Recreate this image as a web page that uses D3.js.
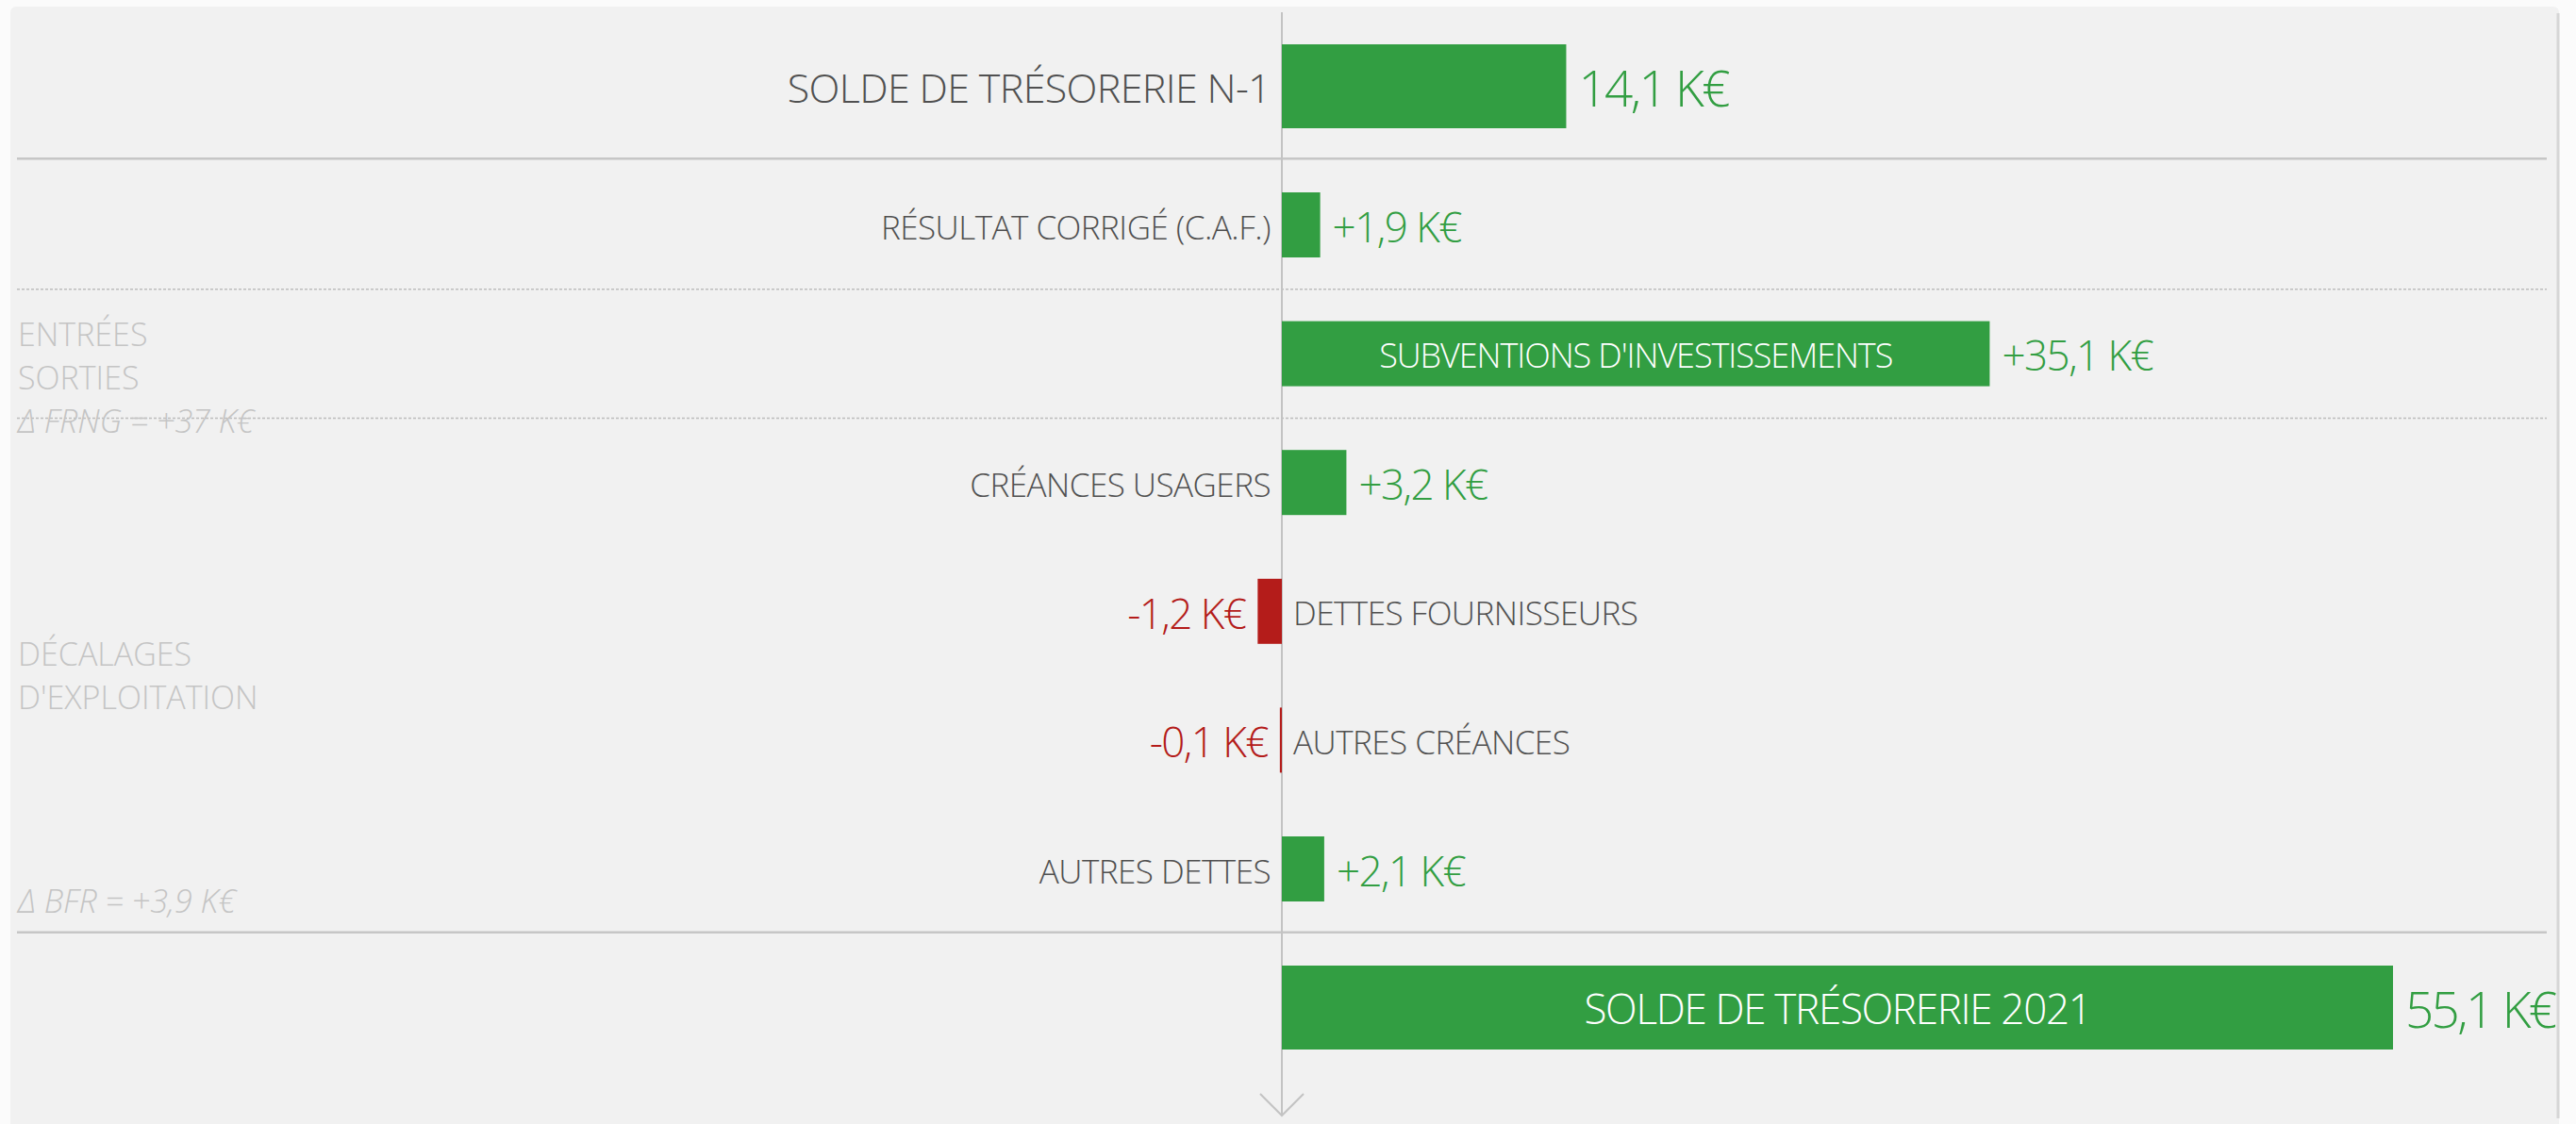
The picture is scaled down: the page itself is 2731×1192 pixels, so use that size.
<!DOCTYPE html>
<html>
<head>
<meta charset="utf-8">
<script src="https://cdn.jsdelivr.net/npm/d3@7"></script>
<style>
  html, body { margin: 0; padding: 0; background: #ffffff; }
  svg { display: block; }
  text { font-family: 'Open Sans', 'Segoe UI', sans-serif; font-weight: 300; }
</style>
</head>
<body>
<svg id="chart" width="2731" height="1192"></svg>
<script>
// ---------- DATA ----------
const categories = [
  "SOLDE DE TRÉSORERIE N-1",
  "RÉSULTAT CORRIGÉ (C.A.F.)",
  "SUBVENTIONS D'INVESTISSEMENTS",
  "CRÉANCES USAGERS",
  "DETTES FOURNISSEURS",
  "AUTRES CRÉANCES",
  "AUTRES DETTES",
  "SOLDE DE TRÉSORERIE 2021"
];
const values = [14.1, 1.9, 35.1, 3.2, -1.2, -0.1, 2.1, 55.1];
const rowKinds = ["solde", "flux", "flux", "flux", "flux", "flux", "flux", "solde"];
const groupTitles = [["ENTRÉES", "SORTIES"], ["DÉCALAGES", "D'EXPLOITATION"]];
const groupNotes = ["Δ FRNG = +37 K€", "Δ BFR = +3,9 K€"];
const unit = "K€";

// ---------- LAYOUT ----------
const W = 2731, H = 1192;
const svg = d3.select("#chart");
const green = "#329e42", red = "#b41c1a", dark = "#505050", faint = "#c4c4c4";

const fr = d3.formatLocale({ decimal: ",", thousands: "\u00a0", grouping: [3], currency: ["", ""], minus: "-" });
const fmt = fr.format(".1f");
const label = (v, kind) => (kind === "flux" && v > 0 ? "+" : "") + fmt(v) + " " + unit;

const x = d3.scaleLinear().domain([0, d3.max(values)]).range([1359, 2537]);
const mid = categories.slice(1, -1);
const yMid = d3.scalePoint().domain(mid).range([238.5, 921.5]);
const step = yMid.step();
const totalGap = 147;
const y = c => {
  if (c === categories[0]) return yMid(mid[0]) - totalGap;
  if (c === categories[categories.length - 1]) return yMid(mid[mid.length - 1]) + totalGap;
  return yMid(c);
};
const barH = k => k === "solde" ? 89 : 69;
const valSize = k => k === "solde" ? 53 : 44;
const base = (cy, fs) => cy + 0.36 * fs + 2.5;

// panel
svg.append("rect").attr("x", 0).attr("y", 0).attr("width", W).attr("height", H).attr("fill", "#fbfbfb");
svg.append("rect").attr("x", 11).attr("y", 7).attr("width", 2702).attr("height", 1200)
  .attr("rx", 6).attr("fill", "#f1f1f1");
svg.append("line").attr("x1", 2712).attr("x2", 2712).attr("y1", 14).attr("y2", 1186)
  .attr("stroke", "#d6d6d6").attr("stroke-width", 3);

// separators
const lx0 = 18, lx1 = 2700;
const solidYs = [yMid(mid[0]) - step / 2 - 2, yMid(mid[mid.length - 1]) + step / 2 - 1];
const dottedYs = [yMid(mid[0]) + step / 2, yMid(mid[1]) + step / 2];
svg.selectAll("line.solid").data(solidYs).join("line").attr("class", "solid")
  .attr("x1", lx0).attr("x2", lx1).attr("y1", d => d).attr("y2", d => d)
  .attr("stroke", "#c6c6c6").attr("stroke-width", 2.5);
svg.selectAll("line.dotted").data(dottedYs).join("line").attr("class", "dotted")
  .attr("x1", lx0).attr("x2", lx1).attr("y1", d => d).attr("y2", d => d)
  .attr("stroke", "#bdbdbd").attr("stroke-width", 1.5).attr("stroke-dasharray", "3,2");

// group annotations
const fsA = 34, lineH = 46;
const g0y = y(categories[2]) - 8;
groupTitles[0].forEach((t, i) => {
  svg.append("text").attr("x", 19).attr("y", g0y + i * lineH).attr("font-size", fsA)
    .attr("fill", faint).text(t);
});
svg.append("text").attr("x", 19).attr("y", g0y + 2 * lineH).attr("font-size", fsA)
  .attr("fill", faint).attr("font-style", "italic").text(groupNotes[0]);
const g1c = (y(categories[4]) + y(categories[5])) / 2;
groupTitles[1].forEach((t, i) => {
  svg.append("text").attr("x", 19).attr("y", g1c - 11 + i * lineH).attr("font-size", fsA)
    .attr("fill", faint).text(t);
});
svg.append("text").attr("x", 19).attr("y", y(categories[6]) + 46).attr("font-size", fsA)
  .attr("fill", faint).attr("font-style", "italic").text(groupNotes[1]);

// axis line with arrow
const ax = x(0);
svg.append("line").attr("x1", ax).attr("x2", ax).attr("y1", 13).attr("y2", 1182)
  .attr("stroke", "#c3c3c3").attr("stroke-width", 2);
svg.append("path").attr("d", d3.line()([[ax - 23, 1160], [ax, 1183], [ax + 23, 1160]]))
  .attr("fill", "none").attr("stroke", "#c3c3c3").attr("stroke-width", 2);

// bars
const rows = categories.map((c, i) => ({ c, v: values[i], k: rowKinds[i] }));
svg.selectAll("rect.bar").data(rows).join("rect").attr("class", "bar")
  .attr("x", d => Math.min(x(0), x(d.v)))
  .attr("width", d => Math.max(1.5, Math.abs(x(d.v) - x(0))))
  .attr("y", d => y(d.c) - barH(d.k) / 2)
  .attr("height", d => barH(d.k))
  .attr("fill", d => d.v >= 0 ? green : red);

// value labels
svg.selectAll("text.val").data(rows).join("text").attr("class", "val")
  .attr("x", d => d.v >= 0 ? x(d.v) + 13 : x(d.v) - 13)
  .attr("y", d => base(y(d.c), valSize(d.k)))
  .attr("text-anchor", d => d.v >= 0 ? "start" : "end")
  .attr("font-size", d => valSize(d.k))
  .attr("letter-spacing", d => d.k === "solde" ? "-0.05em" : "-0.035em")
  .attr("fill", d => d.v >= 0 ? green : red)
  .text(d => label(d.v, d.k));

// category labels: inside the bar when it fits, else beside the axis
const cats = svg.selectAll("text.cat").data(rows).join("text").attr("class", "cat")
  .attr("font-size", d => d.k === "solde" ? 43 : 35)
  .attr("letter-spacing", "-0.015em")
  .attr("y", d => base(y(d.c), d.k === "solde" ? 43 : 35))
  .text(d => d.c);
cats.each(function (d) {
  const t = d3.select(this);
  const w = this.getComputedTextLength();
  const bw = Math.abs(x(d.v) - x(0));
  if (d.v >= 0 && w + 120 < bw) {
    t.attr("x", (x(0) + x(d.v)) / 2).attr("text-anchor", "middle").attr("fill", "#ffffff")
      .attr("font-size", d.k === "solde" ? 44 : 36).attr("letter-spacing", "-0.03em");
  } else if (d.v >= 0) {
    t.attr("x", x(0) - 12).attr("text-anchor", "end").attr("fill", dark);
  } else {
    t.attr("x", x(0) + 12).attr("text-anchor", "start").attr("fill", dark);
  }
});
</script>
</body>
</html>
